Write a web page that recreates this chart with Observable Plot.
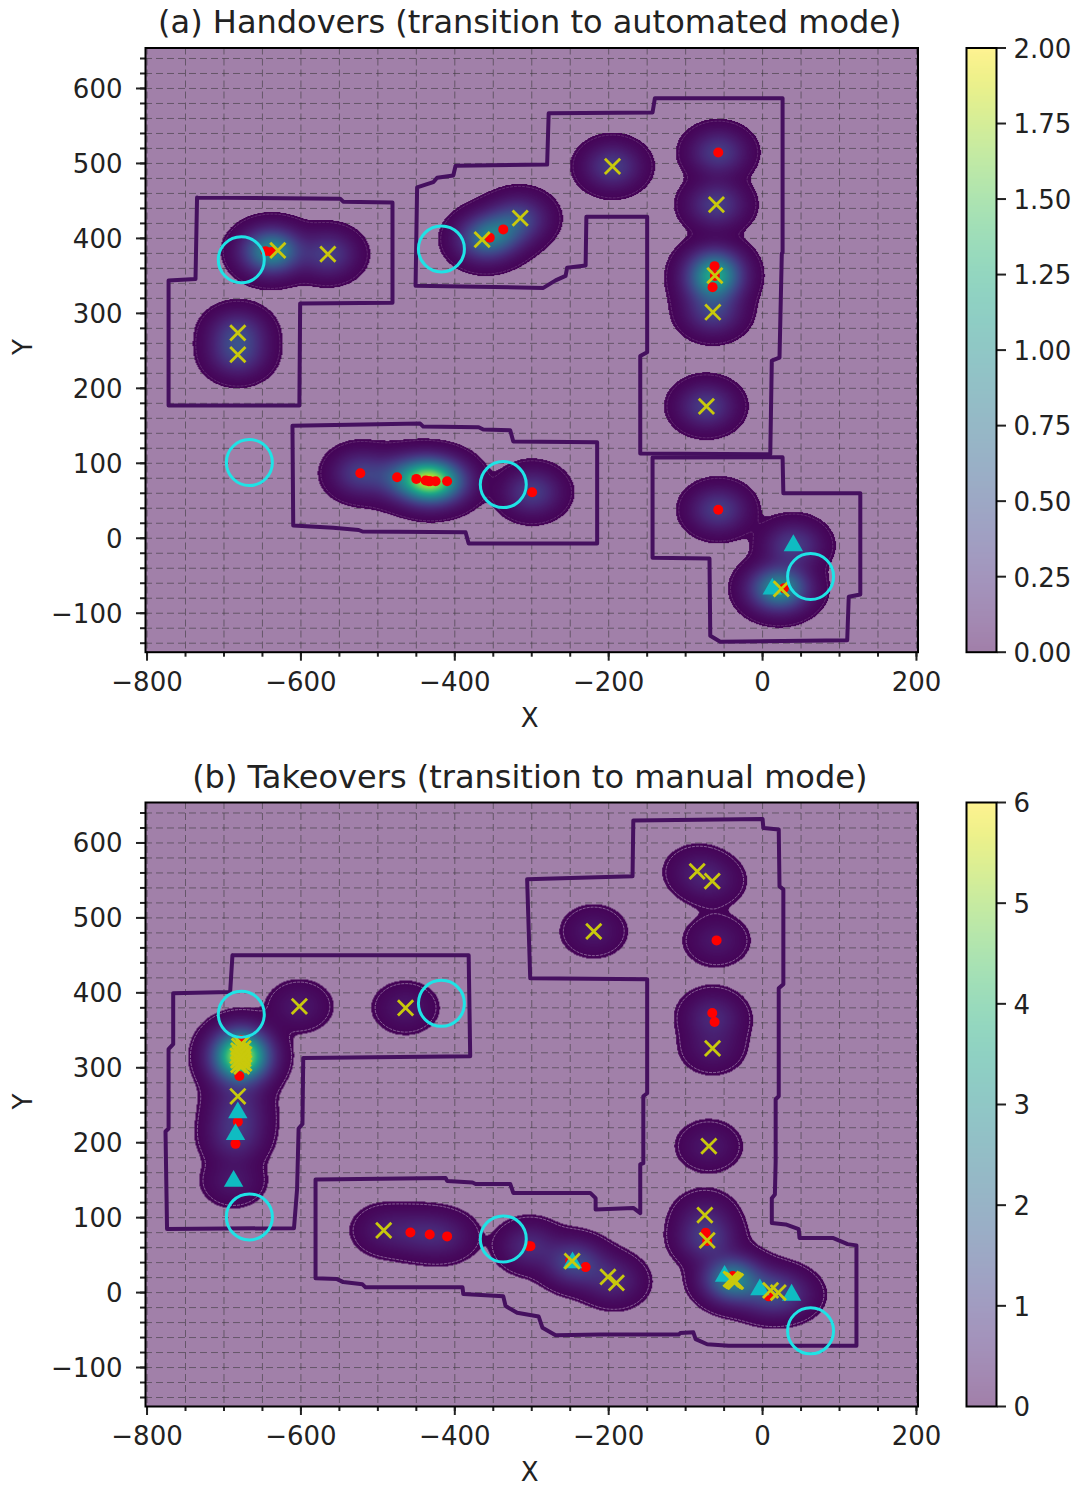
<!DOCTYPE html>
<html>
<head>
<meta charset="utf-8">
<script src="https://cdn.jsdelivr.net/npm/d3@7"></script>
<script src="https://cdn.jsdelivr.net/npm/@observablehq/plot@0.6"></script>
<style>
html,body{margin:0;padding:0;background:#fff;}
#root{position:relative;width:1078px;height:1485px;overflow:hidden;font-family:"DejaVu Sans",sans-serif;}
#root svg{position:absolute;overflow:visible;background:transparent;}
</style>
</head>
<body>
<div id="root"></div>
<script>
const xTicks = [-800,-600,-400,-200,0,200];
const yTicks = [-100,0,100,200,300,400,500,600];
const xGrid = [-800,-750,-700,-650,-600,-550,-500,-450,-400,-350,-300,-250,-200,-150,-100,-50,0,50,100,150,200];
const yGrid = [-140,-120,-100,-80,-60,-40,-20,0,20,40,60,80,100,120,140,160,180,200,220,240,260,280,300,320,340,360,380,400,420,440,460,480,500,520,540,560,580,600,620,640];
const colorTicksA = [0,0.25,0.5,0.75,1,1.25,1.5,1.75,2];
const colorTicksB = [0,1,2,3,4,5,6];

const circleCenters = [[-677.5,371.5],[-417.4,386],[-667,101],[-337,71.6],[62.4,-51]];

// (a) Handovers
const aCrosses = [[-630,384],[-565,379],[-682,274],[-682,245],[-364.5,398.5],[-315,427],[-195,496],[-60,445],[-62,350.5],[-64.6,301.5],[-73,176],[24.3,-67.5]];
const aReds = [[-646,383],[-638,382],[-354.6,401],[-337,412],[-57.6,514.5],[-62.4,363],[-62,350],[-65,335],[-522.8,86.7],[-475,81.4],[-450,79.2],[-438,77],[-434,76],[-432,76],[-425,76],[-410,76],[-299.5,61.4],[-57.6,38],[27.7,-66.7]];
const aTriangles = [[40,-9.7],[12.6,-67.5]];
const aZones = [
  [[-735,454.5],[-549,453],[-545,449],[-481,448],[-481,314],[-601,313],[-602,177],[-772,177],[-772,344],[-737,346]],
  [[-451,337],[-285,334],[-269,344],[-256,350],[-254,361],[-230,364],[-229,429],[-150,429],[-150,248],[-159,243],[-159,113],[10,112],[12,237],[22,241],[25,380],[26,381],[26,587],[-140,587],[-143,568],[-278,567],[-280,498.5],[-399,497],[-402,484],[-423,481],[-428,475],[-449,468]],
  [[-611,150],[-445,153],[-441,149],[-369,148],[-363,145],[-328,144],[-324,129],[-215,128],[-215,-7],[-382,-7],[-386,8],[-520,9],[-525,11],[-558,14],[-610,17]],
  [[-143,107.7],[26,108],[27,60],[127,60],[127,-75],[112,-78],[110,-136],[-55,-138],[-68,-130],[-69,-27],[-143,-26]]
];

// (b) Takeovers
const bCrosses = [[-85,562],[-65.4,549],[-219.4,482],[-602,382],[-464,380],[-65,326],[-69.8,195.4],[-682,262],
  [-677,332],[-680,329],[-675,326],[-681,323],[-677,320],[-674,318],[-682,316],[-678,314],[-675,312],[-681,310],[-677,308],[-674,306],[-681,304],[-677,302],[-679,319],[-676,315],[-680,311],
  [-492.4,83],[-75,103.4],[-72,69.6],[-247.5,42],[-201,21],[-190,13],[-41,18],[-39,17],[-38,16],[-37,16],[-36,15],[-35,15],[10.4,3],[20.4,0]];
const bReds = [[-59.8,470],[-65.4,373],[-62.4,361],[-457.7,80.3],[-432.6,77.6],[-410,75],[-301.7,62],[-304,62],[-230,34],[-250,42],[-74,80],[-72,69],[-38.6,22],[8,-5],[-680,289],[-678,337],[-682,228],[-685,198.5]];
const bTriangles = [[-682,240],[-685,211],[-687.5,148.7],[-247,40],[-49.4,22],[-3.5,4],[37.7,-3.3]];
const bZones = [
  [[-689,450],[-382,450],[-380,315.5],[-597,313],[-598,225],[-603,219],[-605,138],[-609,86],[-774,85],[-776,215],[-772,219],[-772,325],[-766,331.5],[-766,399.5],[-692,401]],
  [[-168,630],[0,632],[1,620],[21,618],[22,542],[27,538],[27,411.5],[21,406],[21,262],[17,258],[17,175],[16,131],[12,126],[12,93],[30,91],[47,84.7],[48,72.7],[92,72.7],[110.5,64.7],[122,63],[122,-71],[-44,-71],[-72,-69],[-87,-62],[-90,-53],[-107,-54],[-109,-56],[-211,-56],[-269,-57],[-286,-47],[-291,-32],[-319,-27],[-334,-18],[-337,-5],[-389,-2],[-390,7],[-516,7],[-520,11],[-545,14],[-553,18],[-581,19],[-581,151],[-412,153],[-410,149],[-377,147],[-373,145],[-328,145],[-324,133],[-224,133],[-217,126],[-217,111],[-168,113],[-159,106],[-159,171],[-155,172.7],[-155,262],[-150,266],[-150,418],[-302,419.5],[-306,551.6],[-169,555.6]]
];

const ink = "#222";
const fontSize = 26;
const minus = d => String(d).replace("-", "\u2212");
const xDomain = [-802, 202], yDomain = [-152, 654];

function densityOf(points) {
  const amp = 0.35, sx = 22, sy = 18;
  return (x, y) => {
    let s = 0;
    for (const p of points) {
      const dx = (x - p[0]) / sx, dy = (y - p[1]) / sy;
      const r = dx * dx + dy * dy;
      if (r < 30) s += Math.exp(-0.5 * r);
    }
    return amp * s;
  };
}

function panel({title, vmax, crosses, reds, triangles, zones, height, marginTop, marginBottom, top}) {
  const all = crosses.concat(reds, triangles);
  const density = densityOf(all);
  const cut = 0.0075 * vmax;
  const extent = {x1: xDomain[0], x2: xDomain[1], y1: yDomain[0], y2: yDomain[1]};
  const marks = [
    Plot.frame({fill: "#440154", fillOpacity: 0.5, stroke: "none"}),
    Plot.ruleX(xGrid, {stroke: "#333", strokeOpacity: 0.6, strokeWidth: 0.9, strokeDasharray: "7,4"}),
    Plot.ruleY(yGrid, {stroke: "#333", strokeOpacity: 0.6, strokeWidth: 0.9, strokeDasharray: "7,4"}),
    Plot.raster({...extent, pixelSize: 1, fill: (x, y) => { const v = density(x, y); return v < cut ? NaN : v; }}),
    Plot.contour({...extent, value: density, thresholds: [cut * 1.55], stroke: "#d8cde0", strokeOpacity: vmax > 3 ? 0.45 : 0.18, strokeWidth: 1, strokeDasharray: "3,1", fill: "none"}),
    ...zones.map(z => Plot.line(z.concat([z[0]]), {x: d => d[0], y: d => d[1], stroke: "#45105f", strokeWidth: 4, strokeLinejoin: "round", curve: "linear"})),
    Plot.dot(reds, {x: d => d[0], y: d => d[1], r: 5, fill: "#ff0000", stroke: "none"}),
    Plot.dot(triangles, {x: d => d[0], y: d => d[1], r: 7.2, symbol: "triangle", fill: "#0fbcc2", stroke: "none"}),
    Plot.dot(crosses, {x: d => d[0], y: d => d[1], r: 7, symbol: "times", stroke: "#c9c90c", strokeWidth: 2.8}),
    Plot.dot(circleCenters, {x: d => d[0], y: d => d[1], r: 23, fill: "none", stroke: "#1fe3e6", strokeWidth: 3}),
    Plot.axisX({ticks: xGrid, tickSize: 5, strokeWidth: 2, stroke: ink, tickFormat: () => "", label: null}),
    Plot.axisY({ticks: yGrid, tickSize: 5, strokeWidth: 2, stroke: ink, tickFormat: () => "", label: null}),
    Plot.axisX({ticks: xTicks, tickSize: 9, tickPadding: 11, strokeWidth: 2, stroke: ink, fill: ink, fontSize, tickFormat: minus, label: null}),
    Plot.axisY({ticks: yTicks, tickSize: 9, strokeWidth: 2, stroke: ink, tickFormat: () => "", label: null}),
    Plot.axisY({ticks: yTicks, tickSize: 0, tickPadding: 23, dy: 1, fill: ink, fontSize, tickFormat: minus, label: null}),
    Plot.text(["X"], {frameAnchor: "bottom", dx: -2, dy: 66, lineAnchor: "middle", fontSize, fill: ink, text: d => d}),
    Plot.text(["Y"], {frameAnchor: "left", dx: -122, dy: 5, rotate: -90, lineAnchor: "middle", fontSize, fill: ink, text: d => d}),
    Plot.text([title], {frameAnchor: "top", dx: -2, dy: -15, lineAnchor: "bottom", fontSize: 32, fill: ink, text: d => d}),
    Plot.frame({stroke: "#000", strokeWidth: 2})
  ];
  const svg = Plot.plot({
    width: 1078, height, marginLeft: 145, marginRight: 160.5, marginTop, marginBottom,
    style: {fontFamily: '"DejaVu Sans"', background: "transparent", fontSize: "26px"},
    x: {domain: xDomain, axis: null},
    y: {domain: yDomain, axis: null},
    color: {type: "linear", scheme: "viridis", domain: [0, vmax], clamp: true},
    marks
  });
  svg.style.left = "0px";
  svg.style.top = top + "px";
  return svg;
}

function colorbar({vmax, ticks, format, height, marginTop, marginBottom, top}) {
  const svg = Plot.plot({
    width: 112, height, marginLeft: 0, marginRight: 82, marginTop, marginBottom,
    style: {fontFamily: '"DejaVu Sans"', background: "transparent", fontSize: "26px"},
    x: {domain: [0, 1], axis: null},
    y: {domain: [0, vmax], axis: null},
    color: {type: "linear", scheme: "viridis", domain: [0, vmax]},
    marks: [
      Plot.raster({x1: 0, x2: 1, y1: 0, y2: vmax, width: 2, height: 256, fill: (x, y) => y, fillOpacity: 0.5}),
      Plot.axisY({anchor: "right", ticks, tickSize: 9, strokeWidth: 2, stroke: ink, tickFormat: () => "", label: null}),
      Plot.axisY({anchor: "right", ticks, tickSize: 0, tickPadding: 17, dy: 1.5, fill: ink, fontSize, tickFormat: format, label: null}),
      Plot.frame({stroke: "#000", strokeWidth: 2})
    ]
  });
  svg.style.left = "966px";
  svg.style.top = top + "px";
  return svg;
}

const root = document.getElementById("root");
const first = {height: 742, marginTop: 47.5, marginBottom: 90.3, top: 0};
const second = {height: 743, marginTop: 60, marginBottom: 79, top: 742};
root.append(
  panel({title: "(a) Handovers (transition to automated mode)", vmax: 2, crosses: aCrosses, reds: aReds, triangles: aTriangles, zones: aZones, ...first}),
  colorbar({vmax: 2, ticks: colorTicksA, format: d3.format(".2f"), ...first}),
  panel({title: "(b) Takeovers (transition to manual mode)", vmax: 6, crosses: bCrosses, reds: bReds, triangles: bTriangles, zones: bZones, ...second}),
  colorbar({vmax: 6, ticks: colorTicksB, format: d3.format("d"), ...second})
);
</script>
</body>
</html>
